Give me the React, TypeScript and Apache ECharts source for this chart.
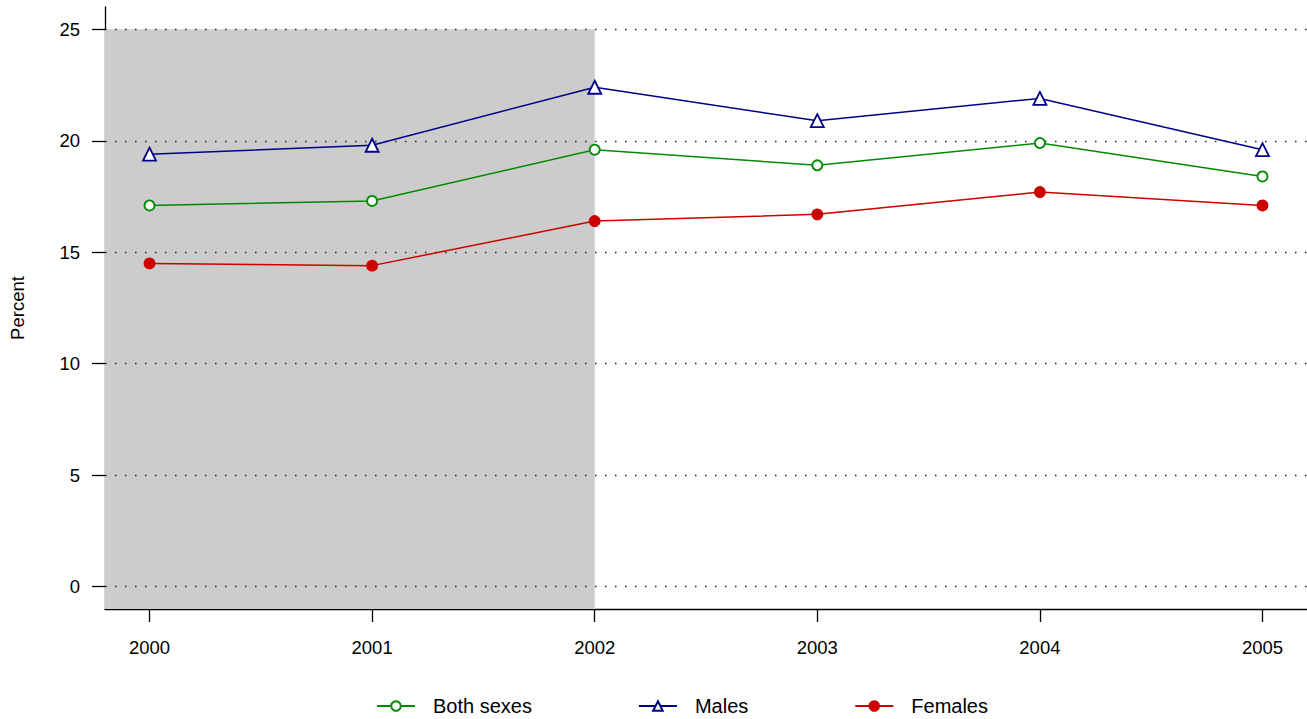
import React, { useEffect, useRef } from "react";
import * as echarts from "echarts";

const years = [2000, 2001, 2002, 2003, 2004, 2005];
const bothSexes = [17.1, 17.3, 19.6, 18.9, 19.9, 18.4];
const males = [19.4, 19.8, 22.4, 20.9, 21.9, 19.6];
const females = [14.5, 14.4, 16.4, 16.7, 17.7, 17.1];
const yTicks = [0, 5, 10, 15, 20, 25];
const shadedStart = 1999.8;
const shadedEnd = 2002;

const FONT = "Liberation Sans, Arial, Helvetica, sans-serif";

export default function App() {
  const ref = useRef<HTMLDivElement>(null);
  useEffect(() => {
    if (!ref.current) return;
    const chart = echarts.init(ref.current, null, { renderer: "svg" });
    const pairs = (vals: number[]) => years.map((y, i) => [y, vals[i]]);
    const lineSeries = (name: string, vals: number[], color: string, symbol: string, size: number, filled: boolean) => ({
      type: "line",
      name,
      data: pairs(vals),
      z: 5,
      symbol,
      symbolSize: size,
      showAllSymbol: true,
      lineStyle: { color, width: 1.5 },
      itemStyle: { color: filled ? color : "#ffffff", borderColor: color, borderWidth: 1.8 },
      emphasis: { disabled: true },
    });
    chart.setOption({
      animation: false,
      textStyle: { fontFamily: FONT },
      grid: { left: 105, right: 0, top: 7, bottom: 110, containLabel: false, outerBoundsMode: "none" },
      xAxis: {
        type: "value",
        min: 1999.8,
        max: 2005.2,
        axisLine: { show: true, onZero: false, lineStyle: { color: "#000", width: 1.3 } },
        axisTick: { show: true, length: 13, customValues: years, lineStyle: { color: "#000", width: 1.3 } },
        axisLabel: { customValues: years, margin: 29, fontSize: 18.5, color: "#000", fontFamily: FONT, formatter: (v: number) => String(Math.round(v)) },
        splitLine: { show: false },
      },
      yAxis: {
        type: "value",
        min: -1,
        max: 26,
        name: "Percent",
        nameLocation: "middle",
        nameGap: 78,
        nameRotate: 90,
        nameTextStyle: { fontSize: 18.5, color: "#000", fontFamily: FONT },
        axisLine: { show: true, onZero: false, lineStyle: { color: "#000", width: 1.3 } },
        axisTick: { show: true, length: 13, customValues: yTicks, lineStyle: { color: "#000", width: 1.3 } },
        axisLabel: { customValues: yTicks, margin: 25, fontSize: 18.5, color: "#000", fontFamily: FONT },
        splitLine: { show: false },
      },
      legend: {
        left: 371,
        top: 691,
        itemWidth: 38,
        itemHeight: 12,
        itemGap: 106,
        textStyle: { fontSize: 20, color: "#000", fontFamily: FONT, padding: [0, 0, 0, 13] },
        data: ["Both sexes", "Males", "Females"],
      },
      series: [
        {
          type: "line",
          name: "shade",
          data: [],
          z: 1,
          markArea: {
            silent: true,
            itemStyle: { color: "#cccccc", opacity: 1 },
            data: [[{ xAxis: shadedStart, yAxis: 25 }, { xAxis: shadedEnd, yAxis: -1 }]],
          },
        },
        {
          type: "line",
          name: "grid",
          data: [],
          z: 2,
          markLine: {
            silent: true,
            symbol: "none",
            label: { show: false },
            lineStyle: { color: "#222", width: 1.3, type: [1.5, 8.5] },
            data: yTicks.map((t) => ({ yAxis: t })),
          },
        },
        lineSeries("Both sexes", bothSexes, "#008B00", "circle", 10, false),
        lineSeries("Males", males, "#00008B", "triangle", 13, false),
        lineSeries("Females", females, "#CD0000", "circle", 10, true),
      ],
    });
    return () => chart.dispose();
  }, []);
  return <div ref={ref} style={{ width: 1307, height: 719, position: "absolute", left: 0, top: 0 }} />;
}
